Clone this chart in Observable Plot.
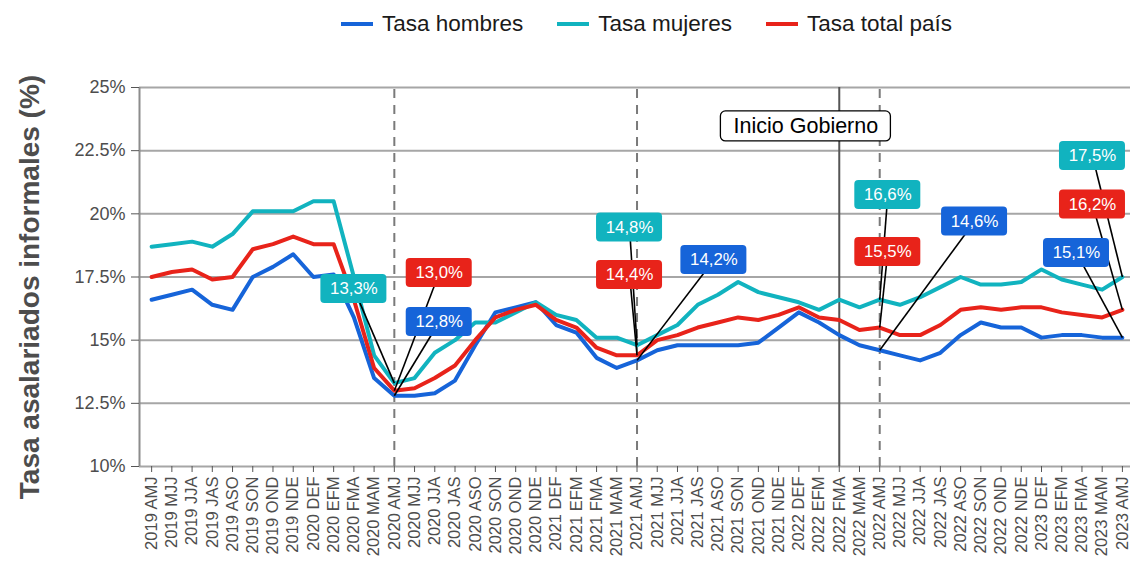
<!DOCTYPE html>
<html>
<head>
<meta charset="utf-8">
<script src="https://cdn.jsdelivr.net/npm/d3@7"></script>
<script src="https://cdn.jsdelivr.net/npm/@observablehq/plot@0.6"></script>
<style>
  html, body { margin: 0; padding: 0; background: #fff; }
  body { width: 1130px; height: 561px; overflow: hidden; font-family: "Liberation Sans", Arial, sans-serif; }
  #legend { height: 48px; display: flex; justify-content: center; align-items: center; font-size: 22.5px; color: #1a1a1a; padding-left: 163px; box-sizing: border-box; }
  .item { display: flex; align-items: center; margin: 0 17px; }
  .sw { width: 32px; height: 4px; margin-right: 9px; }
  #chart svg { display: block; font-family: "Liberation Sans", Arial, sans-serif; }
</style>
</head>
<body>
<div id="legend"></div>
<div id="chart"></div>
<script>
// ---- data ----
const periods = [
  "2019 AMJ","2019 MJJ","2019 JJA","2019 JAS","2019 ASO","2019 SON","2019 OND","2019 NDE",
  "2020 DEF","2020 EFM","2020 FMA","2020 MAM","2020 AMJ","2020 MJJ","2020 JJA","2020 JAS",
  "2020 ASO","2020 SON","2020 OND","2020 NDE","2021 DEF","2021 EFM","2021 FMA","2021 MAM",
  "2021 AMJ","2021 MJJ","2021 JJA","2021 JAS","2021 ASO","2021 SON","2021 OND","2021 NDE",
  "2022 DEF","2022 EFM","2022 FMA","2022 MAM","2022 AMJ","2022 MJJ","2022 JJA","2022 JAS",
  "2022 ASO","2022 SON","2022 OND","2022 NDE","2023 DEF","2023 EFM","2023 FMA","2023 MAM","2023 AMJ"
];
const hombres = [16.6,16.8,17.0,16.4,16.2,17.5,17.9,18.4,17.5,17.6,15.9,13.5,12.8,12.8,12.9,13.4,
  14.8,16.1,16.3,16.5,15.6,15.3,14.3,13.9,14.2,14.6,14.8,14.8,14.8,14.8,14.9,15.5,
  16.1,15.7,15.2,14.8,14.6,14.4,14.2,14.5,15.2,15.7,15.5,15.5,15.1,15.2,15.2,15.1,15.1];
const mujeres = [18.7,18.8,18.9,18.7,19.2,20.1,20.1,20.1,20.5,20.5,17.5,14.4,13.3,13.5,14.5,15.0,
  15.7,15.7,16.1,16.5,16.0,15.8,15.1,15.1,14.8,15.2,15.6,16.4,16.8,17.3,16.9,16.7,
  16.5,16.2,16.6,16.3,16.6,16.4,16.7,17.1,17.5,17.2,17.2,17.3,17.8,17.4,17.2,17.0,17.5];
const total = [17.5,17.7,17.8,17.4,17.5,18.6,18.8,19.1,18.8,18.8,16.6,13.9,13.0,13.1,13.5,14.0,
  15.0,15.9,16.2,16.4,15.8,15.5,14.7,14.4,14.4,15.0,15.2,15.5,15.7,15.9,15.8,16.0,
  16.3,15.9,15.8,15.4,15.5,15.2,15.2,15.6,16.2,16.3,16.2,16.3,16.3,16.1,16.0,15.9,16.2];
const seriesNames = ["Tasa hombres","Tasa mujeres","Tasa total país"];
const seriesColors = ["#1664d9","#11b3bf","#e8231a"];
const yTicks = [10,12.5,15,17.5,20,22.5,25];
const yTickLabels = ["10%","12.5%","15%","17.5%","20%","22.5%","25%"];
const yTitle = "Tasa asalariados informales (%)";
const dashedPeriods = ["2020 AMJ","2021 AMJ","2022 AMJ"];
const govPeriod = "2022 FMA";
const govText = "Inicio Gobierno";
// annotated labels: period, series, label position (period-index units, percent)
const labelPeriod = ["2020 AMJ","2020 AMJ","2020 AMJ","2021 AMJ","2021 AMJ","2021 AMJ","2022 AMJ","2022 AMJ","2022 AMJ","2023 AMJ","2023 AMJ","2023 AMJ"];
const labelSerie  = [1,2,0, 1,2,0, 1,2,0, 1,2,0];
const labelX      = [10.0,14.22,14.22, 23.63,23.63,27.8, 36.4,36.4,40.69, 46.52,46.52,45.73];
const labelY      = [17.03,17.66,15.72, 19.46,17.58,18.17, 20.75,18.49,19.7, 22.29,20.37,18.45];
const govLabelX = 32.35, govLabelY = 23.46;

// ---- build tables ----
const seriesValues = [hombres, mujeres, total];
const rows = [];
seriesValues.forEach((vals, s) => vals.forEach((v, i) => rows.push({i, serie: seriesNames[s], value: v})));
const fmt = v => d3.format(".1f")(v).replace(".", ",") + "%";
const labels = labelPeriod.map((p, k) => {
  const i = periods.indexOf(p);
  const s = labelSerie[k];
  const v = seriesValues[s][i];
  return {i, v, lx: labelX[k], ly: labelY[k], color: seriesColors[s], text: fmt(v)};
});
// legend
const leg = document.getElementById("legend");
seriesNames.forEach((n, s) => {
  const d = document.createElement("div"); d.className = "item";
  d.innerHTML = `<span class="sw" style="background:${seriesColors[s]}"></span><span>${n}</span>`;
  leg.appendChild(d);
});

const W = 1130, H = 513, mL = 139, mR = 0, mT = 39, mB = 95;
const xDomain = [-0.6, 48.4];
const pxX = (W - mL - mR) / (xDomain[1] - xDomain[0]);
const pxY = (H - mT - mB) / 15;
const bw = 33 / pxX, bh = 14.5 / pxY;
const gw = 85 / pxX, gh = 15 / pxY;

const chart = Plot.plot({
  width: W, height: H,
  marginLeft: mL, marginRight: mR, marginTop: mT, marginBottom: mB,
  x: {type: "linear", domain: xDomain},
  y: {domain: [10, 25]},
  marks: [
    Plot.gridY(yTicks, {stroke: "#a6a6a6", strokeOpacity: 1, strokeWidth: 2}),
    Plot.ruleX(dashedPeriods.map(p => periods.indexOf(p)), {stroke: "#7a7a7a", strokeWidth: 2, strokeDasharray: "9,7", y1: 10, y2: 25}),
    Plot.ruleX([periods.indexOf(govPeriod)], {stroke: "#555555", strokeWidth: 2, y1: 10, y2: 25}),
    Plot.ruleX([xDomain[0]], {stroke: "#8c8c8c", strokeWidth: 2, y1: 10, y2: 25}),
    Plot.axisY({ticks: yTicks, tickFormat: (d) => yTickLabels[yTicks.indexOf(d)], tickSize: 8, tickPadding: 6, fontSize: 18, label: null, stroke: "#555", fill: "#4d4d4d"}),
    Plot.axisX({ticks: d3.range(periods.length), tickFormat: i => periods[i], tickRotate: -90, tickSize: 6, tickPadding: 4, fontSize: 16.5, label: null, stroke: "#555", fill: "#4d4d4d"}),
    Plot.text([yTitle], {frameAnchor: "left", textAnchor: "middle", rotate: -90, dx: -109, dy: 10, fontSize: 28, fontWeight: "bold", fill: "#4d4d4d"}),
    Plot.line(rows, {x: "i", y: "value", z: "serie", stroke: d => seriesColors[seriesNames.indexOf(d.serie)], strokeWidth: 4, strokeLinejoin: "round"}),
    Plot.link(labels, {x1: "i", y1: "v", x2: "lx", y2: "ly", stroke: "black", strokeWidth: 1.6}),
    Plot.rect(labels, {x1: d => d.lx - bw, x2: d => d.lx + bw, y1: d => d.ly - bh, y2: d => d.ly + bh, fill: "color", rx: 4}),
    Plot.text(labels, {x: "lx", y: "ly", text: "text", fill: "white", fontSize: 16.8}),
    Plot.rect([0], {x1: govLabelX - gw, x2: govLabelX + gw, y1: govLabelY - gh, y2: govLabelY + gh, fill: "white", stroke: "black", strokeWidth: 1.3, rx: 5}),
    Plot.text([govText], {x: govLabelX, y: govLabelY, fontSize: 21.5, fill: "black"})
  ]
});
document.getElementById("chart").appendChild(chart);
</script>
</body>
</html>
